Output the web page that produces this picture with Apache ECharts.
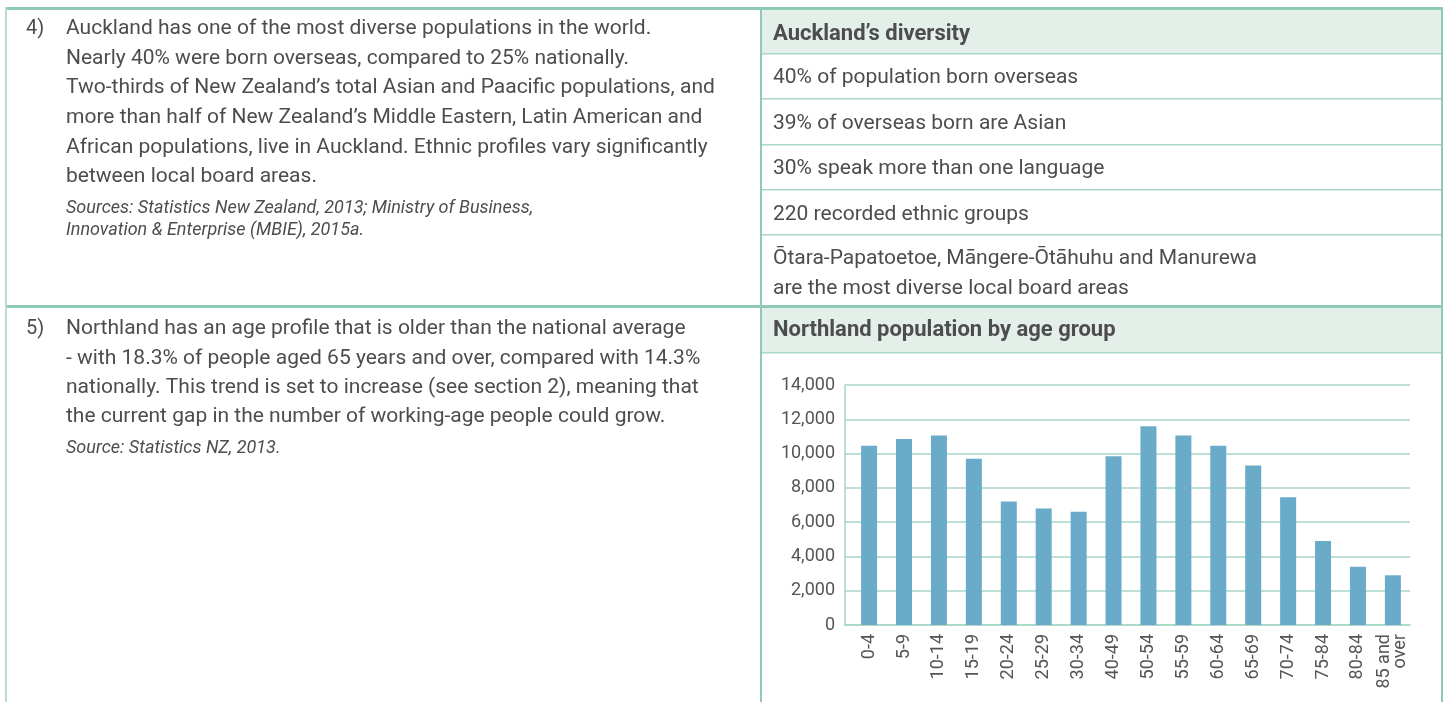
<!DOCTYPE html>
<html>
<head>
<meta charset="utf-8">
<title>Auckland and Northland</title>
<script src="https://cdn.jsdelivr.net/npm/echarts@6/dist/echarts.min.js"></script>
<style>
  html, body { margin: 0; padding: 0; background: #fff; }
  #main { width: 1449px; height: 702px; }
</style>
</head>
<body>
<div id="main"></div>
<script>
// age groups and population counts
var ageGroups = ['0-4', '5-9', '10-14', '15-19', '20-24', '25-29', '30-34', '40-49',
  '50-54', '55-59', '60-64', '65-69', '70-74', '75-84', '80-84', '85 and\nover'];
var population = [10450, 10850, 11050, 9700, 7200, 6800, 6600, 9850,
  11600, 11050, 10450, 9300, 7450, 4900, 3400, 2900];
var yTicks = [0, 2000, 4000, 6000, 8000, 10000, 12000, 14000];

var para4 = [
  'Auckland has one of the most diverse populations in the world.',
  'Nearly 40% were born overseas, compared to 25% nationally.',
  'Two-thirds of New Zealand\u2019s total Asian and Paacific populations, and',
  'more than half of New Zealand\u2019s Middle Eastern, Latin American and',
  'African populations, live in Auckland. Ethnic profiles vary significantly',
  'between local board areas.'
];
var para4Source = [
  'Sources: Statistics New Zealand, 2013; Ministry of Business,',
  'Innovation & Enterprise (MBIE), 2015a.'
];
var para5 = [
  'Northland has an age profile that is older than the national average',
  '- with 18.3% of people aged 65 years and over, compared with 14.3%',
  'nationally. This trend is set to increase (see section 2), meaning that',
  'the current gap in the number of working-age people could grow.'
];
var para5Source = ['Source: Statistics NZ, 2013.'];
var diversityRows = [
  '40% of population born overseas',
  '39% of overseas born are Asian',
  '30% speak more than one language',
  '220 recorded ethnic groups',
  '\u014Ctara-Papatoetoe, M\u0101ngere-\u014Ct\u0101huhu and Manurewa\nare the most diverse local board areas'
];

var FONT = 'Roboto';
var TXT = '#4d4d4d';
var LINE = '#8fcab5';
var LIGHT = '#a9d6c6';
var HEAD_BG = '#e4efe9';

var graphics = [];

function rect(x, y, w, h, fill) {
  graphics.push({ type: 'rect', shape: { x: x, y: y, width: w, height: h }, style: { fill: fill }, silent: true });
}
function text(x, y, str, size, opts) {
  opts = opts || {};
  graphics.push({
    type: 'text', x: x, y: y, silent: true,
    style: {
      text: str, fill: opts.color || TXT, font: (opts.style || 'normal') + ' ' + (opts.weight || 'normal') + ' ' + size + 'px ' + FONT,
      textVerticalAlign: 'middle', lineHeight: opts.lineHeight || 30
    }
  });
}

// header bands
rect(762, 9, 679, 44, HEAD_BG);
rect(762, 308, 679, 44, HEAD_BG);

// frame lines
rect(5, 7, 1438, 3, LINE);          // top
rect(5, 305, 1438, 3, LINE);        // middle divider
rect(5, 7, 2, 695, '#b6dccf');      // left
rect(760, 7, 2, 695, LINE);         // column divider
rect(1441, 7, 2, 695, LINE);        // right
// right table rows
[53, 98, 144, 189, 234].forEach(function (y) { rect(762, y, 679, 1.5, LIGHT); });
rect(762, 352, 679, 1.5, LIGHT);

// left paragraphs
text(26, 29, '4)', 20);
para4.forEach(function (s, i) { text(66, 29 + i * 29.6, s, 21); });
para4Source.forEach(function (s, i) { text(66, 208 + i * 22, s, 18, { style: 'italic' }); });
text(26, 329, '5)', 20);
para5.forEach(function (s, i) { text(66, 329 + i * 29.4, s, 21); });
para5Source.forEach(function (s, i) { text(66, 448 + i * 22, s, 18, { style: 'italic' }); });

// right table
text(773, 34, 'Auckland\u2019s diversity', 22, { weight: 'bold' });
var rowY = [78, 124, 169, 215, 274];
diversityRows.forEach(function (s, i) { text(773, rowY[i], s, 21, { lineHeight: 30 }); });
text(773, 330, 'Northland population by age group', 22, { weight: 'bold' });

var barData = population.map(function (v, i) { return [i, v]; });

var chart = echarts.init(document.getElementById('main'));
chart.setOption({
  animation: false,
  backgroundColor: '#fff',
  grid: { left: 845, right: 39, top: 385, bottom: 77, containLabel: false },
  xAxis: {
    type: 'value',
    min: -0.69,
    max: 15.49,
    splitLine: { show: false },
    axisTick: { show: false },
    axisLine: { show: true, onZero: false, lineStyle: { color: LIGHT, width: 1.5 } },
    axisLabel: {
      customValues: ageGroups.map(function (_, i) { return i; }),
      formatter: function (v) { return ageGroups[Math.round(v)] || ''; },
      rotate: 90,
      margin: 9,
      color: '#555',
      fontFamily: FONT,
      fontSize: 18,
      lineHeight: 16
    }
  },
  yAxis: {
    type: 'value',
    min: yTicks[0],
    max: yTicks[yTicks.length - 1],
    interval: yTicks[1] - yTicks[0],
    axisLine: { show: true, onZero: false, lineStyle: { color: LIGHT, width: 1.5 } },
    axisTick: { show: false },
    splitLine: { lineStyle: { color: LIGHT, width: 1.5 } },
    axisLabel: {
      margin: 10,
      color: '#555',
      fontFamily: FONT,
      fontSize: 18,
      formatter: function (v) { return v.toLocaleString('en-US'); }
    }
  },
  series: [{
    type: 'bar',
    data: barData,
    barWidth: 16,
    itemStyle: { color: '#69abc9' }
  }],
  graphic: graphics
});
window.addEventListener('resize', chart.resize);
</script>
</body>
</html>
